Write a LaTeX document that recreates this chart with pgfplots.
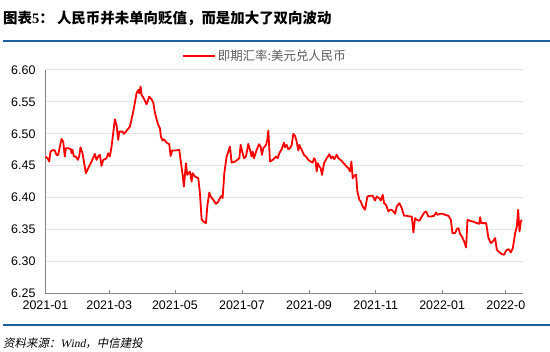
\documentclass[border=0pt]{standalone}
\usepackage{fontspec}
\setmainfont{Liberation Sans}
\newfontfamily\cjk{Noto Sans CJK SC}
\newfontfamily\cjkit{Noto Sans CJK SC}[FakeSlant=0.2]
\newfontfamily\serifit{Liberation Serif}[FakeSlant=0.2]
\newfontfamily\serif{Liberation Serif}
\usepackage{pgfplots}
\pgfplotsset{compat=1.18}
\definecolor{titleblue}{HTML}{1F5F9E}
\definecolor{axisgrey}{HTML}{868686}
\definecolor{gridgrey}{HTML}{E3E3E3}
\definecolor{leggrey}{HTML}{5A5A5A}
\begin{document}
\begin{tikzpicture}
\useasboundingbox (0bp,0bp) rectangle (550bp,352bp);
\node[anchor=west,inner sep=0pt] at (3bp,334bp) {\fontsize{14.5}{16}\selectfont\cjk\bfseries 图表{\serif\bfseries 5}： 人民币并未单向贬值，而是加大了双向波动};
\draw[titleblue,line width=2bp] (3bp,310.5bp) -- (550bp,310.5bp);
\draw[titleblue,line width=2bp] (3bp,27bp) -- (550bp,27bp);
\node[anchor=west,inner sep=0pt] at (3bp,9bp) {\fontsize{11.5}{13}\selectfont\cjkit 资料来源：{\serifit Wind}，中信建投};
\begin{axis}[
  at={(45.5bp,59bp)}, anchor=south west,
  scale only axis, width=477bp, height=223bp,
  xmin=137, xmax=1567, ymin=6.25, ymax=6.60,
  axis lines=left, axis line style={-, axisgrey, line width=0.8bp},
  xtick={137,328,525,726,927,1127,1326,1517},
  xticklabels={2021-01,2021-03,2021-05,2021-07,2021-09,2021-11,2022-01,2022-0},
  xtick align=inside, major tick length=3bp,
  x tick style={axisgrey, line width=0.8bp},
  ytick={6.25,6.30,...,6.61},
  y tick style={draw=none},
  ymajorgrids, grid style={gridgrey, line width=1bp},
  yticklabel style={xshift=-5bp, /pgf/number format/.cd, fixed, fixed zerofill, precision=2},
  xticklabel style={yshift=-4bp},
  /pgf/number format/assume math mode=true,
  tick label style={font=\fontsize{12.5}{14}\selectfont, black},
  legend style={at={(0.46,1.063)}, anchor=center, draw=none, fill=none,
    font=\fontsize{12.5}{14}\selectfont\cjk\color{leggrey}, inner sep=0pt},
  legend image code/.code={\draw[#1] (0bp,0bp) -- (32bp,0bp);},
  clip=false,
]
\addplot[red, line width=1.8bp, line join=round] coordinates {
(137,6.4642)(143,6.4615)(148,6.4563)(152,6.4720)(160,6.4746)(165,6.4736)(170,6.4668)(175,6.4668)
(185,6.4918)(190,6.4877)(195,6.4642)(198,6.4772)(205,6.4772)(213,6.4757)(215,6.4694)(218,6.4746)
(222,6.4642)(228,6.4642)(234,6.4589)(238,6.4642)(242,6.4788)(248,6.4694)(258,6.4380)(265,6.4459)
(275,6.4563)(285,6.4683)(290,6.4589)(295,6.4642)(300,6.4668)(305,6.4495)(310,6.4589)(320,6.4615)
(325,6.4694)(330,6.4642)(335,6.4798)(345,6.5227)(350,6.5138)(355,6.4903)(358,6.5033)(368,6.5033)
(372,6.4997)(378,6.5033)(390,6.5112)(400,6.5347)(410,6.5634)(415,6.5687)(418,6.5634)(422,6.5739)
(425,6.5608)(430,6.5572)(440,6.5462)(448,6.5582)(455,6.5540)(460,6.5488)(465,6.5331)(470,6.5227)
(475,6.5138)(480,6.5086)(483,6.4955)(488,6.4892)(492,6.4913)(500,6.4861)(508,6.4835)(512,6.4652)
(517,6.4736)(525,6.4736)(538,6.4746)(548,6.4354)(552,6.4171)(558,6.4537)(562,6.4354)(570,6.4406)
(575,6.4250)(578,6.4380)(585,6.4328)(595,6.4302)(600,6.4067)(605,6.3659)(610,6.3623)(618,6.3597)
(622,6.3858)(628,6.4077)(632,6.4015)(640,6.3962)(648,6.3900)(655,6.3936)(660,6.3989)(665,6.4025)
(668,6.3989)(673,6.4380)(680,6.4642)(690,6.4798)(695,6.4548)(705,6.4563)(712,6.4589)(718,6.4615)
(722,6.4824)(728,6.4694)(732,6.4615)(738,6.4642)(745,6.4840)(750,6.4746)(755,6.4642)(758,6.4720)
(762,6.4615)(770,6.4746)(777,6.4835)(782,6.4798)(786,6.4668)(790,6.4772)(798,6.4824)(802,6.4903)
(805,6.5049)(810,6.4563)(818,6.4589)(823,6.4615)(828,6.4642)(833,6.4615)(838,6.4694)(845,6.4757)
(852,6.4861)(855,6.4788)(860,6.4824)(865,6.4757)(870,6.4772)(875,6.4824)(880,6.4997)(885,6.4966)
(890,6.4877)(895,6.4736)(898,6.4824)(905,6.4746)(912,6.4668)(918,6.4642)(925,6.4589)(932,6.4563)
(938,6.4548)(942,6.4615)(946,6.4589)(950,6.4406)(953,6.4537)(958,6.4485)(962,6.4459)(966,6.4354)
(972,6.4537)(980,6.4615)(988,6.4678)(993,6.4615)(998,6.4642)(1003,6.4600)(1010,6.4668)(1015,6.4615)
(1025,6.4574)(1035,6.4511)(1045,6.4459)(1050,6.4406)(1054,6.4563)(1058,6.4302)(1062,6.4339)(1068,6.4354)
(1072,6.4093)(1078,6.3962)(1082,6.3936)(1088,6.3858)(1095,6.3806)(1102,6.4015)(1110,6.4025)(1118,6.4025)
(1125,6.3952)(1130,6.4015)(1137,6.3989)(1142,6.3952)(1148,6.4041)(1152,6.3910)(1158,6.3884)(1165,6.3779)
(1170,6.3806)(1175,6.3806)(1180,6.3779)(1185,6.3743)(1190,6.3858)(1198,6.3910)(1205,6.3832)(1212,6.3712)
(1220,6.3712)(1228,6.3701)(1235,6.3701)(1240,6.3450)(1245,6.3675)(1250,6.3649)(1258,6.3633)(1265,6.3701)
(1273,6.3764)(1278,6.3779)(1285,6.3701)(1293,6.3701)(1302,6.3712)(1308,6.3764)(1312,6.3727)(1320,6.3743)
(1328,6.3743)(1335,6.3727)(1345,6.3712)(1352,6.3649)(1357,6.3440)(1365,6.3440)(1370,6.3503)(1375,6.3518)
(1380,6.3424)(1385,6.3388)(1392,6.3309)(1398,6.3215)(1402,6.3649)(1410,6.3633)(1420,6.3618)(1430,6.3597)
(1437,6.3586)(1440,6.3691)(1443,6.3597)(1450,6.3597)(1458,6.3597)(1465,6.3362)(1472,6.3283)(1478,6.3309)
(1485,6.3362)(1490,6.3179)(1498,6.3137)(1505,6.3111)(1512,6.3100)(1518,6.3168)(1525,6.3189)(1532,6.3137)
(1538,6.3205)(1545,6.3440)(1550,6.3544)(1554,6.3806)(1558,6.3466)(1562,6.3623)(1565,6.3649)
};
\addlegendentry{即期汇率:美元兑人民币}
\end{axis}
\end{tikzpicture}
\end{document}
